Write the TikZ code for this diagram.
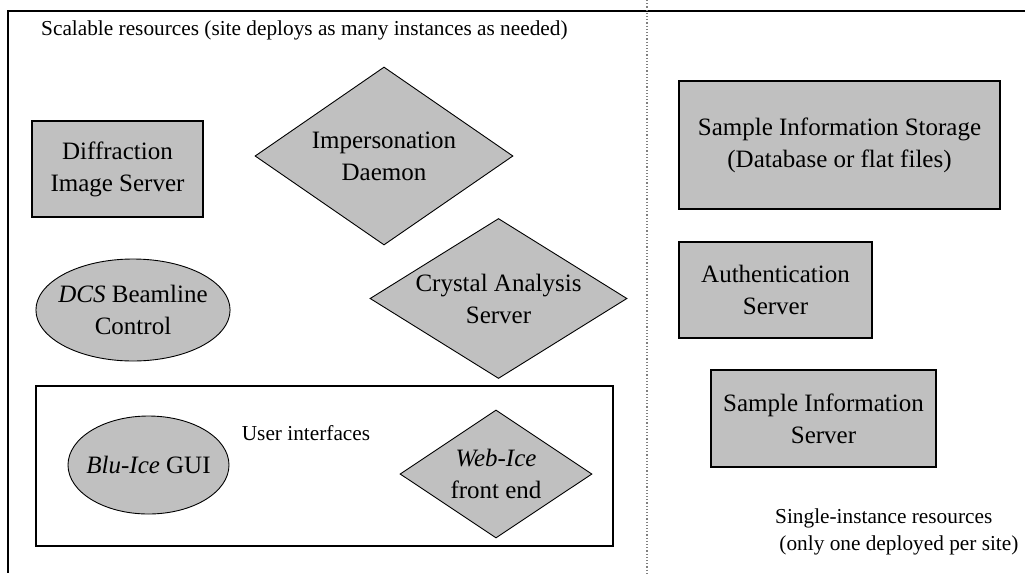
\documentclass[tikz,border=0pt]{standalone}
\usepackage{fontspec}
\setmainfont{Liberation Serif}
\usetikzlibrary{shapes.geometric}
\definecolor{boxgray}{RGB}{192,192,192}
\tikzset{
  big/.style={font=\fontsize{25}{32}\selectfont, align=center},
  small/.style={font=\fontsize{21.3}{27}\selectfont},
  rbox/.style={draw=black, fill=boxgray, line width=1.2pt, rectangle, inner sep=0pt, big},
  dbox/.style={draw=black, fill=boxgray, line width=0.9pt, diamond, inner sep=0pt, big},
  ebox/.style={draw=black, fill=boxgray, line width=0.9pt, ellipse, inner sep=-6pt, big},
  frame/.style={draw=black, line width=1.2pt},
  divider/.style={draw=gray, line width=1.2pt, dotted},
}
\begin{document}
\begin{tikzpicture}[x=1pt,y=-1pt]
\useasboundingbox (0,0) rectangle (1025,573);
% outer frame (top and left edges) and dotted divider
\coordinate (tl) at (8,11);
\coordinate (tr) at (1025,11);
\coordinate (bl) at (8,573);
\draw[frame] (tr) -- (tl) -- (bl);
\coordinate (dt) at (647,0);
\coordinate (db) at (647,573);
\draw[divider] (dt) -- (db);
% title
\node[small, anchor=base west, inner sep=0pt] (title) at (41,35) {Scalable resources (site deploys as many instances as needed)};
% left column shapes
\node[rbox, minimum width=171pt, minimum height=96pt] (dis) at (117.5,169) {Diffraction\\Image Server};
\node[dbox, minimum width=258pt, minimum height=178pt, aspect=1.45] (imp) at (384,156) {Impersonation\\Daemon};
\node[ebox, minimum width=193pt, minimum height=102pt] (dcs) at (133,310) {\textit{DCS} Beamline\\Control};
\node[dbox, minimum width=257pt, minimum height=160pt, aspect=1.6] (cas) at (498.5,298.5) {Crystal Analysis\\Server};
% user interfaces box
\node[draw=black, line width=1.2pt, rectangle, minimum width=577pt, minimum height=160pt, inner sep=0pt] (ui) at (324.5,466) {};
\node[small, anchor=base, inner sep=0pt] (uilabel) at (306,440) {User interfaces};
\node[ebox, minimum width=161pt, minimum height=98pt] (blu) at (148.5,465) {\textit{Blu-Ice} GUI};
\node[dbox, minimum width=192pt, minimum height=128pt, aspect=1.5] (web) at (496,474) {\textit{Web-Ice}\\front end};
% right column
\node[rbox, minimum width=321pt, minimum height=128pt] (sis) at (839.5,145) {Sample Information Storage\\(Database or flat files)};
\node[rbox, minimum width=193pt, minimum height=96pt] (auth) at (775.5,290) {Authentication\\Server};
\node[rbox, minimum width=225pt, minimum height=97pt] (sisrv) at (823.5,418.5) {Sample Information\\Server};
\node[small, anchor=base west, inner sep=0pt, align=left] (single) at (775,550) {Single-instance resources\\\hspace{0.2em}(only one deployed per site)};
\end{tikzpicture}
\end{document}
